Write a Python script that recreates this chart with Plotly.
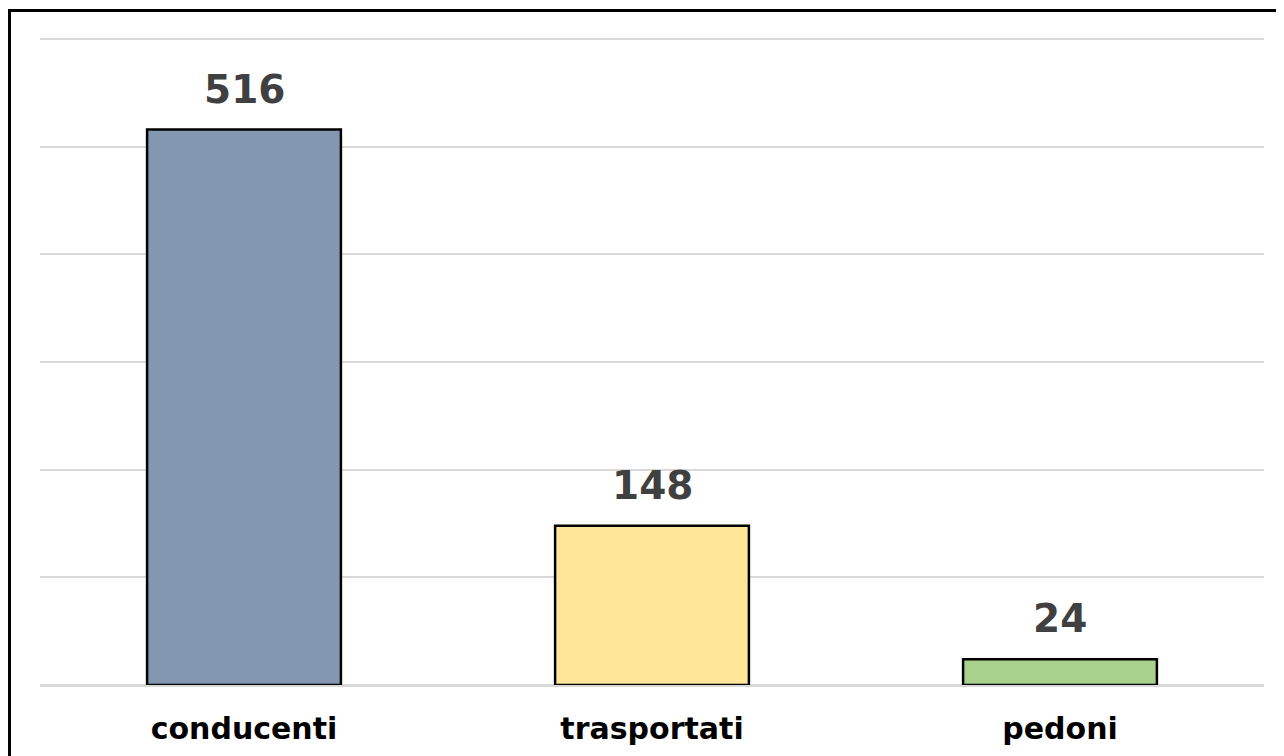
import plotly.graph_objects as go

# dati
categorie = ["conducenti", "trasportati", "pedoni"]
valori = [516, 148, 24]
colori = ["#8497B0", "#FFE699", "#A9D18E"]

fig = go.Figure(go.Bar(
    x=categorie,
    y=valori,
    marker=dict(color=colori, line=dict(color="black", width=2.5)),
    width=0.475,
    hoverinfo="x+y",
))

# etichette valori sopra le barre
for c, v in zip(categorie, valori):
    fig.add_annotation(x=c, y=v, text="<b>%d</b>" % v, showarrow=False,
                       yanchor="bottom", yshift=16,
                       font=dict(family="DejaVu Sans", size=39, color="#404040"))

# cornice
fig.add_shape(type="rect", xref="paper", yref="paper",
              x0=-0.0249, x1=1.2, y0=-0.3, y1=1.0409,
              line=dict(color="black", width=3), layer="above")

fig.update_layout(
    width=1284, height=756,
    margin=dict(l=32, r=28, t=29, b=79),
    paper_bgcolor="white", plot_bgcolor="white",
    showlegend=False,
    bargap=0.525,
    yaxis=dict(range=[0, 602], dtick=100, showticklabels=False,
               gridcolor="#D9D9D9", gridwidth=1.5,
               zeroline=True, zerolinecolor="#D9D9D9", zerolinewidth=2.5),
    xaxis=dict(showgrid=False, ticks="", ticklabelstandoff=23,
               tickfont=dict(family="DejaVu Sans", size=30, color="black",
                             weight="bold")),
)

fig.write_html("out.html")
